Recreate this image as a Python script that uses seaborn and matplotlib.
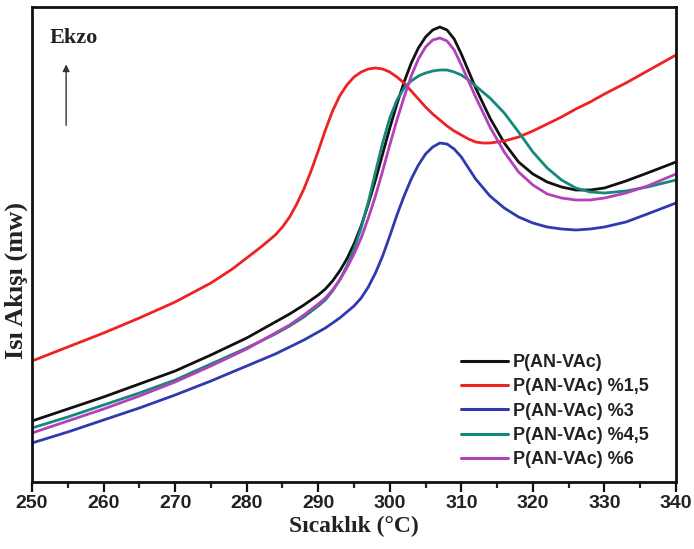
import matplotlib
matplotlib.use("Agg")
import matplotlib.pyplot as plt
from matplotlib import font_manager
from matplotlib.ticker import MultipleLocator
import pandas as pd
import seaborn as sns

# Temperature grids (°C)
temp_main = [250, 255, 260, 265, 270, 275, 280, 284, 286, 288,
             290, 291, 292, 293, 294, 295, 296, 297, 298, 299, 300, 301,
             302, 303, 304, 305, 306, 307, 308, 309, 310, 311, 312,
             314, 316, 318, 320, 322, 324, 326, 328, 330, 333, 336, 340]
temp_red = [250, 255, 260, 265, 270, 275, 278, 280, 282, 284,
            285, 286, 287, 288, 289, 290, 291, 292, 293, 294, 295, 296,
            297, 298, 299, 300, 301, 302, 303, 304, 305, 306, 307, 308,
            309, 310, 311, 312, 313, 314,
            316, 318, 320, 322, 324, 326, 328, 330, 333, 336, 340]

# Heat flow (arbitrary offset units, exo up)
flow_pure = [61, 73, 85, 98, 111, 127, 144, 160, 168, 177,
             187, 193, 201, 211, 223, 238, 256, 278, 302, 328, 354, 378,
             400, 419, 434, 445, 452, 455, 452, 443, 428, 411, 394,
             364, 339, 320, 308, 300, 295, 292, 292, 294, 301, 309, 320]
flow_1_5 = [121, 135, 149, 164, 180, 199, 213, 224, 235, 247,
            255, 265, 278, 293, 311, 331, 352, 371, 386, 397, 405, 410,
            413, 414, 413, 410, 405, 399, 391, 383, 375, 368, 362, 356,
            351, 347, 343, 340, 339, 339,
            341, 345, 351, 358, 365, 373, 380, 388, 399, 411, 427]
flow_3 = [39, 50, 62, 74, 87, 101, 116, 128, 135, 142,
          150, 154, 159, 164, 170, 176, 184, 195, 209, 226, 246, 267,
          286, 303, 317, 328, 335, 339, 338, 333, 325, 314, 303,
          286, 274, 265, 259, 255, 253, 252, 253, 255, 260, 268, 279]
flow_4_5 = [54, 65, 77, 89, 102, 118, 134, 148, 156, 165,
            176, 182, 191, 202, 216, 233, 254, 280, 310, 339, 364, 382,
            394, 401, 406, 409, 411, 412, 412, 410, 407, 402, 396,
            384, 369, 350, 330, 314, 302, 294, 290, 289, 291, 295, 302]
flow_6 = [49, 61, 73, 86, 100, 116, 133, 149, 157, 167,
          178, 184, 192, 202, 214, 228, 244, 264, 286, 311, 337, 362,
          385, 406, 423, 435, 442, 444, 441, 432, 417, 401, 385,
          355, 330, 310, 297, 288, 284, 282, 282, 284, 289, 296, 308]

labels = ["P(AN-VAc)", "P(AN-VAc) %1,5", "P(AN-VAc) %3",
          "P(AN-VAc) %4,5", "P(AN-VAc) %6"]
colors = ["#111111", "#EE2222", "#2E3AAE", "#16877C", "#B440BA"]
x_ticks = [250, 260, 270, 280, 290, 300, 310, 320, 330, 340]

runs = [(temp_main, flow_pure), (temp_red, flow_1_5), (temp_main, flow_3),
        (temp_main, flow_4_5), (temp_main, flow_6)]
df = pd.concat(
    [pd.DataFrame({"T": t, "Q": q, "Sample": lab})
     for (t, q), lab in zip(runs, labels)],
    ignore_index=True,
)

sns.set_theme(style="white")

available = {f.name for f in font_manager.fontManager.ttflist}
narrow = "Liberation Sans Narrow" if "Liberation Sans Narrow" in available else "Liberation Sans"
serif = "Liberation Serif"
plt.rcParams["font.family"] = ["Liberation Sans", "DejaVu Sans"]

fig = plt.figure(figsize=(6.94, 5.49), dpi=100)
ax = fig.add_axes([32 / 694, 67 / 549, 644 / 694, 475 / 549])

sns.lineplot(data=df, x="T", y="Q", hue="Sample", hue_order=labels,
             palette=colors, linewidth=2.0, ax=ax, sort=True)

ax.set_xlim(250, 340)
ax.set_ylim(0, 475)
ax.set_yticks([])
ax.set_xticks(x_ticks)
ax.xaxis.set_minor_locator(MultipleLocator(5))
ax.tick_params(axis="x", which="major", direction="out", length=7, width=1.6,
               bottom=True, top=False, pad=2, colors="#111111")
ax.tick_params(axis="x", which="minor", direction="out", length=4, width=1.6,
               bottom=True, top=False)
for lab in ax.get_xticklabels():
    lab.set_fontfamily(narrow)
    lab.set_fontweight("bold")
    lab.set_fontsize(14)
    lab.set_color("#222222")

for sp in ax.spines.values():
    sp.set_linewidth(2.0)
    sp.set_color("#111111")
    sp.set_visible(True)

ax.set_xlabel("Sıcaklık (°C)", fontfamily=serif, fontweight="bold",
              fontsize=17, color="#222222", labelpad=3)
ax.set_ylabel("Isı Akışı (mw)", fontfamily=serif, fontweight="bold",
              fontsize=19, color="#222222", va="center")
ax.yaxis.set_label_coords(-0.025, 0.425)

# Exothermic direction marker
ax.text(0.028, 0.955, "Ekzo", transform=ax.transAxes, fontfamily=serif,
        fontweight="bold", fontsize=16, color="#222222", va="top", ha="left")
ax.annotate("", xy=(0.053, 0.885), xytext=(0.053, 0.745),
            xycoords="axes fraction",
            arrowprops=dict(arrowstyle="-|>", color="#333333", lw=1.0,
                            mutation_scale=10))

leg = ax.legend(loc="upper left", bbox_to_anchor=(0.655, 0.285),
                frameon=False, fontsize=13, handlelength=2.6,
                handletextpad=0.25, labelspacing=0.41, borderaxespad=0)
for txt in leg.get_texts():
    txt.set_fontweight("bold")
    txt.set_color("#222222")
for ln in leg.get_lines():
    ln.set_linewidth(2.2)

fig.savefig("out.png", dpi=100)
